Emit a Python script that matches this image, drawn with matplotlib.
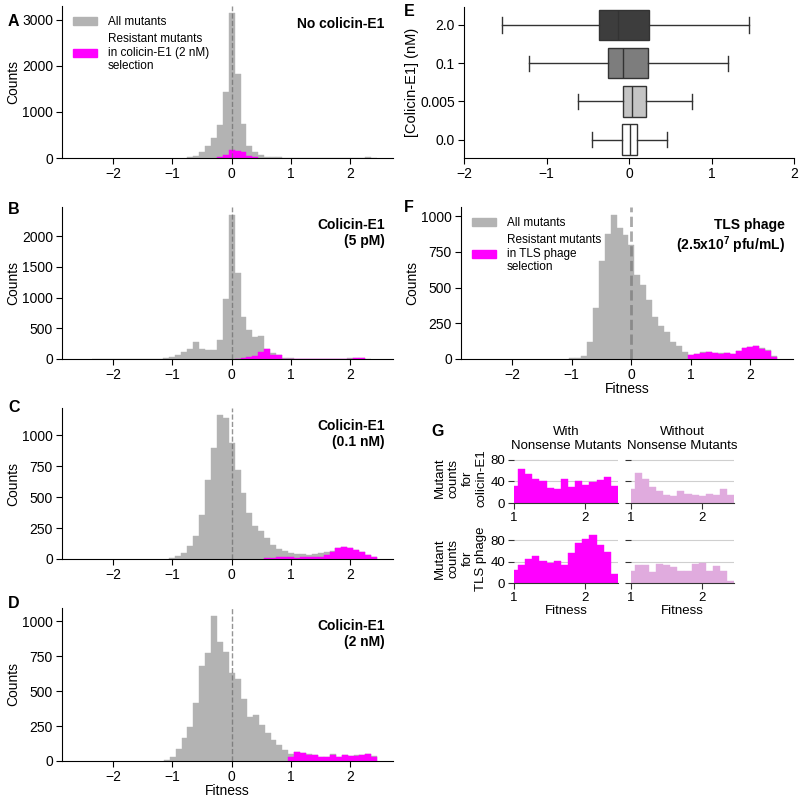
import numpy as np
import matplotlib
matplotlib.use("Agg")
import matplotlib.pyplot as plt
from matplotlib.patches import Patch

plt.rcParams['font.family'] = ['Liberation Sans', 'DejaVu Sans']
plt.rcParams['mathtext.fontset'] = 'custom'
plt.rcParams['mathtext.rm'] = 'Liberation Sans'
plt.rcParams['mathtext.bf'] = 'Liberation Sans:bold'

GRAY = '#b3b3b3'
MAGENTA = '#ff00ff'
LIGHT = '#e0abde'
BW = 0.1

# ---- histogram data (left edge of first bin, counts per 0.1-wide bin) ----
a_all_start = -0.75
a_all = [20, 45, 120, 270, 440, 720, 1440, 3140, 1830, 730, 250, 120, 60, 30, 20,
         12, 8, 6, 5, 4, 3, 3, 2, 2, 2, 2, 2, 3, 5, 8, 15, 3]
a_res_start = -0.25
a_res = [15, 70, 170, 145, 140, 45, 15]

b_all_start = -2.35
b_all = [3, 8, 8, 3, 2, 2, 2, 2, 2, 3, 3, 5,
         10, 38, 70, 120, 160, 280, 165, 145, 145, 310, 985, 2345, 1395, 690, 470,
         360, 370, 165, 90, 65, 20, 12, 5, 4, 3, 3, 2, 2, 2, 3, 5, 10, 15, 20, 5]
b_res_start = 0.05
b_res = [5, 12, 30, 45, 120, 165, 65, 60, 0, 0, 0, 0, 0, 0, 0, 0, 0, 0, 0, 5, 15, 20]

c_all_start = -1.05
c_all = [11, 21, 48, 102, 182, 357, 638, 893, 1161, 1134, 933, 718, 536, 370, 268,
         222, 169, 115, 80, 62, 45, 43, 38, 32, 38, 50, 55, 65, 87, 94, 88, 75, 55, 35, 15]
c_res_start = 0.55
c_res = [8, 12, 16, 16, 14, 12, 14, 16, 14, 16, 35, 60, 85, 94, 88, 75, 55, 35, 15]

d_all_start = -1.145
d_all = [5, 29, 88, 167, 244, 416, 679, 770, 1038, 849, 777, 632, 584, 440, 316,
         328, 256, 201, 148, 112, 81,
         50, 64, 56, 47, 43, 30, 28, 47, 32, 42, 36, 40, 45, 49, 33]
res_start = 0.955
d_res = [31, 62, 54, 45, 41, 28, 26, 45, 30, 40, 34, 38, 43, 47, 31]

f_all_start = -1.045
f_all = [5, 5, 21, 121, 360, 686, 877, 1009, 916, 870, 800, 586, 521, 412, 295,
         230, 186, 116, 93, 51,
         30, 36, 47, 52, 44, 39, 43, 36, 59, 78, 84, 92, 74, 61, 18]
f_res = [25, 34, 45, 50, 42, 37, 41, 34, 57, 76, 82, 90, 72, 59, 16]

# G: without nonsense mutants
g_col_nonons = [26, 55, 45, 29, 22, 15, 12, 22, 16, 15, 12, 17, 15, 26, 15]
g_tls_nonons = [23, 34, 33, 21, 35, 33, 30, 22, 22, 36, 38, 23, 32, 22, 4]

# ---- box plot data (panel E) ----
conc_labels = ['0.0', '0.005', '0.1', '2.0']
e_whislo = [-0.445, -0.62, -1.216, -1.535]
e_q1 = [-0.085, -0.073, -0.255, -0.368]
e_med = [0.008, 0.04, -0.073, -0.133]
e_q3 = [0.10, 0.21, 0.23, 0.242]
e_whishi = [0.465, 0.764, 1.2, 1.455]
box_colors = ['white', '#c4c4c4', '#7d7d7d', '#3d3d3d']

fig = plt.figure(figsize=(8, 8.01), dpi=100)


def add_ax(l, t, r, b):
    return fig.add_axes([l / 800, 1 - b / 801, (r - l) / 800, (b - t) / 801])


def hist(ax, start, counts, color):
    edges = start + BW * np.arange(len(counts))
    ax.bar(edges, counts, width=BW, align='edge', color=color,
           edgecolor=color, linewidth=0.3)


def style(ax):
    ax.spines['top'].set_visible(False)
    ax.spines['right'].set_visible(False)
    ax.tick_params(labelsize=10, length=4, pad=2.5)


def legend(ax, res_label):
    ax.legend(handles=[Patch(color=GRAY), Patch(color=MAGENTA)],
              labels=['All mutants', res_label],
              loc='upper left', bbox_to_anchor=(0.02, 0.965), frameon=False,
              fontsize=8.5, handlelength=2.0, handletextpad=0.9, labelspacing=0.4,
              borderaxespad=0)


def hist_panel(ax, all_start, all_c, res_start, res_c, ymax, yticks, title,
               lw=1.0, alpha=0.75):
    hist(ax, all_start, all_c, GRAY)
    hist(ax, res_start, res_c, MAGENTA)
    ax.axvline(0, color='#707070', ls='--', lw=lw, alpha=alpha)
    ax.set_xlim(-2.86, 2.72)
    ax.set_ylim(0, ymax)
    ax.set_xticks([-2, -1, 0, 1, 2])
    ax.set_yticks(yticks)
    ax.set_ylabel('Counts', fontsize=10, labelpad=1)
    ax.text(0.975, 0.93, title, transform=ax.transAxes, ha='right', va='top',
            fontsize=10, fontweight='bold', multialignment='right')
    style(ax)


# A
axA = add_ax(62, 6, 393, 158)
hist_panel(axA, a_all_start, a_all, a_res_start, a_res, 3300,
           [0, 1000, 2000, 3000], 'No colicin-E1')
legend(axA, 'Resistant mutants\nin colicin-E1 (2 nM)\nselection')

# B
axB = add_ax(62, 207, 393, 359)
hist_panel(axB, b_all_start, b_all, b_res_start, b_res, 2475,
           [0, 500, 1000, 1500, 2000], 'Colicin-E1\n(5 pM)')

# C
axC = add_ax(62, 408, 393, 559)
hist_panel(axC, c_all_start, c_all, c_res_start, c_res, 1218,
           [0, 250, 500, 750, 1000], 'Colicin-E1\n(0.1 nM)')

# D
axD = add_ax(62, 608, 393, 761)
hist_panel(axD, d_all_start, d_all, res_start, d_res, 1094,
           [0, 250, 500, 750, 1000], 'Colicin-E1\n(2 nM)')
axD.set_xlabel('Fitness', fontsize=10, labelpad=0)

# E
axE = add_ax(464, 7, 794, 158)
stats = []
for i in range(len(conc_labels)):
    stats.append(dict(whislo=e_whislo[i], q1=e_q1[i], med=e_med[i], q3=e_q3[i],
                      whishi=e_whishi[i], fliers=[]))
bp = axE.bxp(stats, positions=range(len(conc_labels)), widths=0.8,
             orientation='horizontal', patch_artist=True, showfliers=False,
             boxprops=dict(edgecolor='#333333', linewidth=1.0),
             medianprops=dict(color='#333333', linewidth=1.0),
             whiskerprops=dict(color='#333333', linewidth=1.0),
             capprops=dict(color='#333333', linewidth=1.0))
for patch, c in zip(bp['boxes'], box_colors):
    patch.set_facecolor(c)
axE.set_yticks(range(len(conc_labels)))
axE.set_yticklabels(conc_labels)
axE.set_ylim(-0.48, 3.47)
axE.set_xlim(-2, 2)
axE.set_xticks([-2, -1, 0, 1, 2])
axE.set_ylabel('[Colicin-E1] (nM)', fontsize=10.5, labelpad=1)
style(axE)

# F
axF = add_ax(461, 207, 793, 359)
hist_panel(axF, f_all_start, f_all, res_start, f_res, 1063,
           [0, 250, 500, 750, 1000],
           'TLS phage\n(2.5x10$^{\\mathbf{7}}$ pfu/mL)', lw=2.0, alpha=0.6)
axF.set_xlabel('Fitness', fontsize=10, labelpad=0)
legend(axF, 'Resistant mutants\nin TLS phage\nselection')

# G
g_data = [[d_res, g_col_nonons], [f_res, g_tls_nonons]]
g_rows = [(453, 503), (534, 583)]
g_cols = [(514, 618), (631, 734)]
g_ylabels = ['Mutant\ncounts\nfor\ncolicin-E1', 'Mutant\ncounts\nfor\nTLS phage']
g_titles = ['With\nNonsense Mutants', 'Without\nNonsense Mutants']
for r in range(2):
    for c in range(2):
        ax = add_ax(g_cols[c][0], g_rows[r][0], g_cols[c][1], g_rows[r][1])
        hist(ax, res_start, g_data[r][c], MAGENTA if c == 0 else LIGHT)
        ax.set_xlim(1, 2.455)
        ax.set_ylim(0, 92)
        ax.set_yticks([0, 40, 80])
        ax.set_xticks([1, 2])
        ax.set_axisbelow(True)
        ax.grid(axis='y', color='#cfcfcf', lw=0.8)
        for s in ['top', 'right', 'left']:
            ax.spines[s].set_visible(False)
        ax.spines['bottom'].set_color('#333333')
        ax.tick_params(labelsize=9.5, length=4, color='#333333', pad=2.5)
        if c == 0:
            ax.set_ylabel(g_ylabels[r], fontsize=9.5, labelpad=2)
        else:
            ax.set_yticklabels([])
        if r == 0:
            ax.set_title(g_titles[c], fontsize=9.5, pad=3)
        else:
            ax.set_xlabel('Fitness', fontsize=9.5, labelpad=1)

# panel letters
for letter, x, y in [('A', 8, 22), ('B', 8, 210), ('C', 8, 408), ('D', 8, 603),
                     ('E', 404, 12), ('F', 404, 208), ('G', 431, 432)]:
    fig.text(x / 800, 1 - y / 801, letter, fontsize=11.5, fontweight='bold',
             ha='left', va='center')

fig.savefig('out.png', dpi=100)
